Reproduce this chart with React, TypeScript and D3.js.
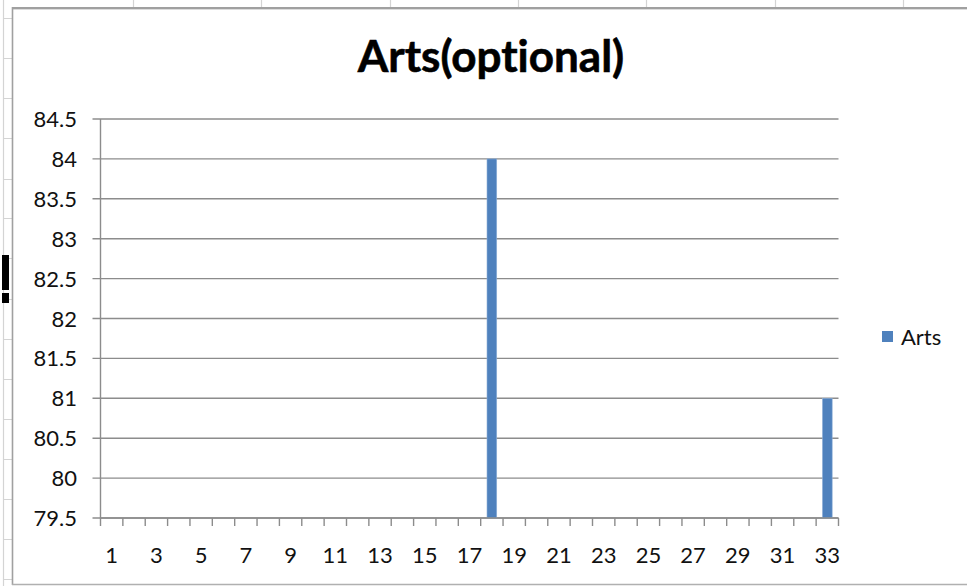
import React from "react";
import * as d3 from "d3";

// Series: Arts scores per student (blank where no optional Arts score)
const categories: number[] = d3.range(1, 34);
const artsValues: (number | null)[] = [
  null, null, null, null, null, null, null, null, null, null, null,
  null, null, null, null, null, null, 84, null, null, null, null,
  null, null, null, null, null, null, null, null, null, null, 81,
];
const yTicks: number[] = [79.5, 80, 80.5, 81, 81.5, 82, 82.5, 83, 83.5, 84, 84.5];
const xLabelCats: number[] = categories.filter((c) => c % 2 === 1);

const seriesName = "Arts";
const titleText = "Arts(optional)";

// Worksheet backdrop around the embedded chart
const sheetColumns: number[] = [133, 261, 390, 518, 646, 775, 903];
const sheetRows: number[] = [18, 58, 98, 138, 179, 218, 258, 299, 339, 379, 419, 459, 499, 539, 579];

const W = 967;
const H = 586;
const FONT = "Lato, 'Open Sans', 'Liberation Sans', sans-serif";
const BLUE = "#4F81BD";
const GRID = "#8c8c8c";
const noLig: React.CSSProperties = { fontVariantLigatures: "none", fontKerning: "normal" };

export default function App() {
  const plot = { left: 100.5, right: 838.5, top: 119, bottom: 518 };

  const x = d3
    .scaleBand<number>()
    .domain(categories)
    .range([plot.left, plot.right])
    .paddingInner(0)
    .paddingOuter(0);

  const y = d3
    .scaleLinear()
    .domain([79.5, 84.5])
    .range([plot.bottom, plot.top]);

  const barW = x.bandwidth() / 2.3;
  const boundaries = d3.range(0, categories.length + 1).map((i) => plot.left + i * x.step());

  return (
    <div style={{ position: "absolute", left: 0, top: 0 }}>
      <svg width={W} height={H} style={{ display: "block" }}>
        <rect x={0} y={0} width={W} height={H} fill="#ffffff" />

        {/* worksheet grid peeking out around the chart */}
        {sheetColumns.map((cx) => (
          <line key={"c" + cx} x1={cx + 0.5} x2={cx + 0.5} y1={0} y2={8} stroke="#d4d4d4" strokeWidth={1.2} />
        ))}
        <line x1={3.5} x2={3.5} y1={0} y2={H} stroke="#d4d4d4" strokeWidth={1.2} />
        {sheetRows.map((ry) => (
          <line key={"r" + ry} x1={3} x2={12} y1={ry + 0.5} y2={ry + 0.5} stroke="#d4d4d4" strokeWidth={1} />
        ))}
        <rect x={2} y={255} width={7} height={35} fill="#000000" />
        <rect x={2} y={293} width={7} height={10} fill="#000000" />

        {/* chart frame */}
        <line x1={12} x2={W} y1={8} y2={8} stroke="#a0a0a0" strokeWidth={2} />
        <line x1={12} x2={W} y1={9.5} y2={9.5} stroke="#dcdcdc" strokeWidth={1} />
        <line x1={12.5} x2={12.5} y1={7} y2={585} stroke="#a0a0a0" strokeWidth={1.6} />
        <line x1={12} x2={W} y1={584.5} y2={584.5} stroke="#b0b0b0" strokeWidth={1.5} />

        {/* title */}
        <text
          x={491}
          y={72}
          textAnchor="middle"
          fontFamily={FONT}
          fontWeight={700}
          fontSize={44}
          fill="#000000"
          stroke="#000000"
          strokeWidth={0.6}
          style={noLig}
        >
          {titleText}
        </text>

        {/* horizontal gridlines and y-axis ticks */}
        {yTicks.map((t) => (
          <g key={"y" + t}>
            <line x1={plot.left - 8} x2={plot.right} y1={y(t)} y2={y(t)} stroke={GRID} strokeWidth={1.4} />
            <text
              x={77}
              y={y(t) + 8}
              textAnchor="end"
              fontFamily={FONT}
              fontSize={22}
              fill="#111111"
              style={noLig}
            >
              {String(t)}
            </text>
          </g>
        ))}

        {/* bars */}
        {categories.map((c, i) => {
          const v = artsValues[i];
          if (v === null) return null;
          const cx = (x(c) as number) + x.bandwidth() / 2;
          return (
            <rect
              key={"b" + c}
              x={cx - barW / 2}
              y={y(v)}
              width={barW}
              height={y(79.5) - y(v)}
              fill={BLUE}
              stroke="#8fb0d8"
              strokeWidth={0.6}
            />
          );
        })}

        {/* axes */}
        <line x1={plot.left} x2={plot.left} y1={plot.top} y2={plot.bottom} stroke={GRID} strokeWidth={1.4} />
        <line x1={plot.left} x2={plot.right} y1={plot.bottom} y2={plot.bottom} stroke={GRID} strokeWidth={1.4} />
        {boundaries.map((bx, i) => (
          <line key={"xt" + i} x1={bx} x2={bx} y1={plot.bottom} y2={plot.bottom + 8} stroke={GRID} strokeWidth={1.4} />
        ))}
        {xLabelCats.map((c) => (
          <text
            key={"xl" + c}
            x={(x(c) as number) + x.bandwidth() / 2}
            y={563}
            textAnchor="middle"
            fontFamily={FONT}
            fontSize={22}
            fill="#111111"
            style={noLig}
          >
            {String(c)}
          </text>
        ))}

        {/* legend */}
        <rect x={882} y={331} width={11} height={11} fill={BLUE} />
        <text x={901} y={345} fontFamily={FONT} fontSize={22} fill="#111111" style={noLig}>
          {seriesName}
        </text>
      </svg>
    </div>
  );
}
